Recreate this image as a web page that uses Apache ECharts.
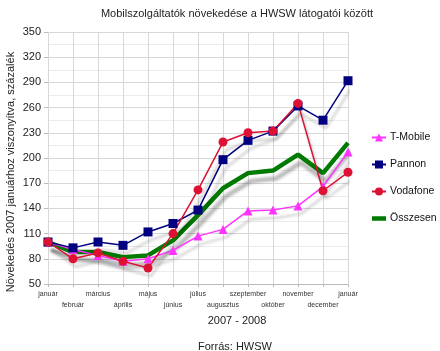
<!DOCTYPE html>
<html>
<head>
<meta charset="utf-8">
<script src="https://cdn.jsdelivr.net/npm/echarts@6/dist/echarts.min.js"></script>
<style>
  html, body { margin: 0; padding: 0; background: #fff; }
  #chart { width: 440px; height: 351px; }
</style>
</head>
<body>
<div id="chart"></div>
<script>
const months = ['január', 'február', 'március', 'április', 'május', 'június', 'július',
    'augusztus', 'szeptember', 'október', 'november', 'december', 'január'];
const tMobile = [100, 91, 84, 77, 80, 90, 107, 115, 137, 138, 143, 166, 207];
const pannon = [100, 93, 100, 96, 112, 122, 138, 198, 221, 232, 262, 245, 292];
const vodafone = [100, 80, 87, 77, 69, 110, 162, 219, 230, 232, 265, 161, 183];
const osszesen = [100, 88, 88, 82, 84, 102, 132, 164, 182, 185, 204, 182, 218];

const chart = echarts.init(document.getElementById('chart'));

const shadow = {
    shadowColor: 'rgba(0,0,0,0.28)',
    shadowBlur: 3,
    shadowOffsetX: 3,
    shadowOffsetY: 8
};

function lineSeries(name, data, color, symbol, width) {
    return {
        name: name,
        type: 'line',
        data: data,
        symbol: symbol,
        symbolSize: 9,
        itemStyle: { color: color },
        lineStyle: Object.assign({ color: color, width: width }, shadow),
        z: name === 'Összesen' ? 1 : 2
    };
}

const font = 'Liberation Sans';

chart.setOption({
    animation: false,
    title: [
        {
            text: 'Mobilszolgáltatók növekedése a HWSW látogatói között',
            left: 232, top: 3, textAlign: 'center',
            textStyle: { fontSize: 11, fontWeight: 'normal', color: '#222', fontFamily: font }
        },
        {
            text: '2007 - 2008',
            left: 232, top: 310, textAlign: 'center',
            textStyle: { fontSize: 11, fontWeight: 'normal', color: '#222', fontFamily: font }
        },
        {
            text: 'Forrás: HWSW',
            left: 230, top: 336, textAlign: 'center',
            textStyle: { fontSize: 11, fontWeight: 'normal', color: '#222', fontFamily: font }
        }
    ],
    graphic: [{
        type: 'text',
        x: 11, y: 172,
        rotation: Math.PI / 2,
        style: {
            text: 'Növekedés 2007 januárhoz viszonyítva, százalék',
            align: 'center', verticalAlign: 'middle',
            fontSize: 11, fill: '#222', fontFamily: font
        }
    }],
    legend: {
        orient: 'vertical',
        left: 371, top: 132,
        itemGap: 16,
        itemWidth: 14, itemHeight: 10,
        padding: 0,
        textStyle: { fontSize: 10.5, color: '#111', fontFamily: font, padding: [0, 0, 0, -1] },
        data: [
            'T-Mobile', 'Pannon', 'Vodafone',
            { name: 'Összesen', icon: 'path://M0,0 L14,0 L14,4.5 L0,4.5 Z' }
        ]
    },
    grid: { left: 48, right: 92, top: 32, bottom: 67, outerBoundsMode: 'none', containLabel: false },
    xAxis: {
        type: 'category',
        boundaryGap: false,
        data: months,
        axisLine: { lineStyle: { color: '#bbb' } },
        axisTick: { show: true, alignWithLabel: true, length: 3, lineStyle: { color: '#bbb' } },
        splitLine: { show: true, lineStyle: { color: '#d8d8d8' } },
        axisLabel: {
            interval: 0, fontSize: 7, color: '#333', margin: 5, lineHeight: 11,
            fontFamily: font,
            formatter: function (v, i) { return i % 2 === 1 ? '\n' + v : v; }
        }
    },
    yAxis: {
        type: 'value',
        min: 50, max: 350, interval: 30,
        axisLine: { show: false },
        axisTick: { show: true, length: 4, lineStyle: { color: '#bbb' } },
        splitLine: { lineStyle: { color: '#d8d8d8' } },
        minorTick: { show: false, splitNumber: 2 },
        minorSplitLine: { show: true, lineStyle: { color: '#ececec' } },
        axisLabel: { fontSize: 11, color: '#222', margin: 7, fontFamily: font }
    },
    series: [
        lineSeries('T-Mobile', tMobile, '#ff33ff', 'triangle', 1.5),
        lineSeries('Pannon', pannon, '#000080', 'rect', 1.5),
        lineSeries('Vodafone', vodafone, '#dd1133', 'circle', 1.5),
        lineSeries('Összesen', osszesen, '#007a00', 'none', 4.5)
    ]
});
</script>
</body>
</html>
